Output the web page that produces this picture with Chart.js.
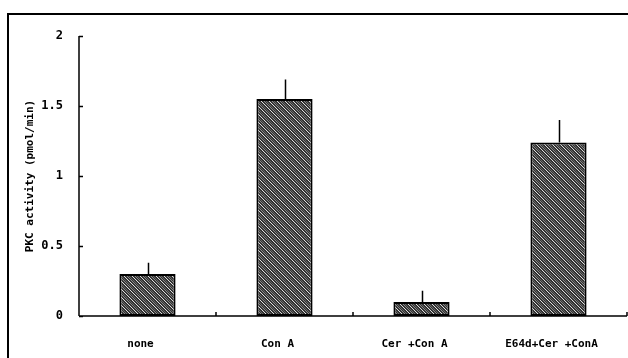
<!DOCTYPE html>
<html>
<head>
<meta charset="utf-8">
<script src="https://cdn.jsdelivr.net/npm/chart.js@4/dist/chart.umd.min.js"></script>
<style>
html,body{margin:0;padding:0;background:#fff;}
#wrap{width:628px;height:358px;position:relative;}
</style>
</head>
<body>
<div id="wrap"><canvas id="c" width="628" height="358"></canvas></div>
<script>
// ---- data ----
const categories = ['none', 'Con A', 'Cer +Con A', 'E64d+Cer +ConA'];
const activity = [0.30, 1.55, 0.10, 1.24];
const activityErr = [0.08, 0.14, 0.08, 0.16];
const yTickValues = [0, 0.5, 1, 1.5, 2];
const yTickLabels = ['0', '0.5', '1', '1.5', '2'];
const yTitle = 'PKC activity (pmol/min)';

// ---- hatch pattern ----
function makePattern() {
  const t = document.createElement('canvas');
  t.width = 8; t.height = 8;
  const g = t.getContext('2d');
  g.fillStyle = '#333';
  g.fillRect(0, 0, 8, 8);
  for (let i = 0; i < 8; i++) {
    g.fillStyle = '#e0e0e0';
    g.fillRect(i, i, 1, 1);
    g.fillStyle = '#8a8a8a';
    g.fillRect((i + 3) % 8, i, 1, 1);
    g.fillStyle = '#666';
    g.fillRect((i + 5) % 8, i, 1, 1);
  }
  return g.createPattern(t, 'repeat');
}

const framePlugin = {
  id: 'frame',
  beforeDraw(chart) {
    const ctx = chart.ctx;
    ctx.save();
    ctx.fillStyle = '#fff';
    ctx.fillRect(0, 0, chart.width, chart.height);
    ctx.strokeStyle = '#000';
    ctx.lineWidth = 2;
    ctx.beginPath();
    ctx.moveTo(7, 14); ctx.lineTo(628, 14);
    ctx.moveTo(8, 13); ctx.lineTo(8, 358);
    ctx.stroke();
    ctx.restore();
  },
  afterDraw(chart) {
    const ctx = chart.ctx;
    const ys = chart.scales.y, xs = chart.scales.x;
    const a = chart.chartArea;
    ctx.save();
    ctx.strokeStyle = '#000';
    ctx.lineWidth = 1.5;
    ctx.beginPath();
    ctx.moveTo(a.left, ys.getPixelForValue(2)); ctx.lineTo(a.left, ys.getPixelForValue(0));
    ctx.moveTo(a.left, a.bottom); ctx.lineTo(a.right, a.bottom);
    yTickValues.forEach(v => {
      const p = Math.round(ys.getPixelForValue(v)) + 0.5;
      ctx.moveTo(a.left, p); ctx.lineTo(a.left + 4, p);
    });
    const step = xs.getPixelForValue(1) - xs.getPixelForValue(0);
    for (let i = 1; i <= categories.length; i++) {
      const p = xs.getPixelForValue(i - 1) + step / 2;
      ctx.moveTo(p, a.bottom); ctx.lineTo(p, a.bottom - 4);
    }
    ctx.stroke();
    const meta = chart.getDatasetMeta(0);
    ctx.lineWidth = 1.5;
    ctx.beginPath();
    meta.data.forEach((el, i) => {
      const top = ys.getPixelForValue(activity[i] + activityErr[i]);
      const x = Math.round(el.x) + 0.5;
      ctx.moveTo(x, el.y); ctx.lineTo(x, top);
    });
    ctx.stroke();
    ctx.restore();
  }
};

new Chart(document.getElementById('c'), {
  type: 'bar',
  data: {
    labels: categories,
    datasets: [{
      data: activity,
      backgroundColor: makePattern(),
      borderColor: '#000',
      borderWidth: 2,
      borderSkipped: false,
      barPercentage: 0.41,
      categoryPercentage: 1.0
    }]
  },
  options: {
    responsive: false,
    animation: false,
    devicePixelRatio: 1,
    layout: { padding: { left: 0, top: 36, right: 1, bottom: 0 } },
    plugins: { legend: { display: false }, tooltip: { enabled: false } },
    scales: {
      x: {
        offset: true,
        grid: { display: false },
        border: { display: false },
        ticks: {
          color: '#000',
          font: { family: 'DejaVu Sans Mono', size: 11, weight: 'bold' },
          padding: 14,
          labelOffset: -7,
          maxRotation: 0,
          autoSkip: false
        },
        afterFit(s) { s.height = 42; }
      },
      y: {
        min: 0, max: 2,
        afterBuildTicks(s) { s.ticks = yTickValues.map(v => ({ value: v })); },
        grid: { display: false },
        border: { display: false },
        ticks: {
          color: '#000',
          font: { family: 'DejaVu Sans Mono', size: 12, weight: 'bold' },
          padding: 8,
          callback(v) { const i = yTickValues.indexOf(v); return i >= 0 ? yTickLabels[i] : ''; }
        },
        title: {
          display: true,
          text: yTitle,
          color: '#000',
          font: { family: 'DejaVu Sans Mono', size: 11, weight: 'bold' },
          padding: { top: 24, bottom: 0 }
        },
        afterFit(s) { s.width = 79; }
      }
    }
  },
  plugins: [framePlugin]
});
</script>
</body>
</html>
